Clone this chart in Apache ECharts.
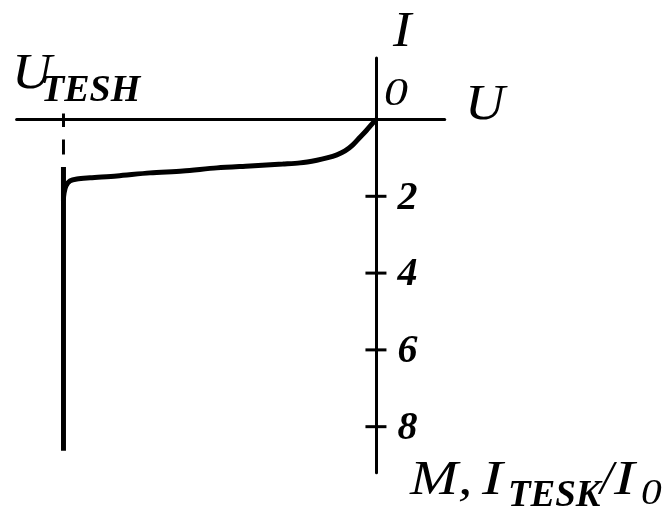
<!DOCTYPE html>
<html>
<head>
<meta charset="utf-8">
<script src="https://cdn.jsdelivr.net/npm/echarts@6/dist/echarts.min.js"></script>
<style>
html,body{margin:0;padding:0;background:#fff;}
#chart{width:671px;height:510px;}
</style>
</head>
<body>
<div id="chart"></div>
<script>
// Normalized voltage U/|U_TESH| (U_TESH = -1) and current I (multiplication M)
const curveU = [0, -0.013, -0.032, -0.051, -0.074, -0.099, -0.125, -0.157, -0.189, -0.243, -0.298, -0.403, -0.509, -0.618, -0.723, -0.829, -0.915, -0.957, -0.979, -0.992, -0.998, -1, -1];
const curveI = [0, 0.12, 0.30, 0.46, 0.66, 0.82, 0.92, 1.00, 1.06, 1.13, 1.16, 1.21, 1.26, 1.34, 1.39, 1.47, 1.52, 1.55, 1.60, 1.73, 1.91, 2.10, 8.63];
const uTesh = -1;
const dashI = [0, 1.24];
const wallI = [1.24, 2.1];
const yTicks = [2, 4, 6, 8];

const serif = 'Liberation Serif';
const chart = echarts.init(document.getElementById('chart'), null, {renderer: 'canvas'});

const option = {
  animation: false,
  backgroundColor: '#fff',
  grid: {left: 16.6, top: 58.06, width: 428.1, height: 414.7, containLabel: false},
  xAxis: {
    type: 'value', min: -1.15, max: 0.22,
    axisLine: {show: true, onZero: true, lineStyle: {color: '#000', width: 3}},
    axisTick: {show: false}, axisLabel: {show: false}, splitLine: {show: false}
  },
  yAxis: {
    type: 'value', min: -1.6, max: 9.2, inverse: true,
    axisLine: {show: true, onZero: true, lineStyle: {color: '#000', width: 3}},
    axisTick: {show: false}, axisLabel: {show: false}, splitLine: {show: false}
  },
  series: [
    {
      type: 'line', data: curveU.map((u, i) => [u, curveI[i]]),
      showSymbol: false, smooth: 0.3,
      lineStyle: {color: '#000', width: 5}
    },
    {
      type: 'line', data: wallI.map(v => [uTesh, v]), showSymbol: false,
      lineStyle: {color: '#000', width: 5}
    },
    {
      type: 'line', data: dashI.map(v => [uTesh, v]), showSymbol: false,
      lineStyle: {color: '#000', width: 3, type: [15, 12.5], dashOffset: 7.5}
    },
    {
      type: 'scatter', data: yTicks.map(v => [0, v]), symbol: 'rect', symbolSize: [21, 3],
      itemStyle: {color: '#000', opacity: 1},
      label: {
        show: true, position: 'right', distance: 11, offset: [0, 2],
        formatter: p => String(p.value[1]),
        fontFamily: serif, fontStyle: 'italic', fontWeight: 'bold', fontSize: 40, color: '#000'
      }
    },
    {
      type: 'scatter', data: [[uTesh, 0]], symbol: 'rect', symbolSize: [3, 12],
      itemStyle: {color: '#000', opacity: 1}
    }
  ]
};
chart.setOption(option);

function txt(text, x, y, size, bold, sx) {
  return {
    type: 'text', x: x, y: y, silent: true, scaleX: sx || 1,
    style: {
      text: text, fill: '#000', font: 'italic ' + (bold ? 'bold ' : '') + size + 'px "' + serif + '"',
      align: 'left', verticalAlign: 'middle'
    }
  };
}
chart.setOption({
  graphic: [
    txt('U', 12, 75, 50, false, 1.1),
    txt('TESH', 41, 91, 38, true),
    txt('I', 393, 33, 50, false, 1.1),
    txt('0', 384, 94, 40, false, 1.2),
    txt('U', 465, 106, 50, false, 1.1),
    txt('M,', 410, 481, 48, false, 1.2),
    txt('I', 482, 481, 48, false, 1.3),
    txt('TESK', 508, 496, 37, true),
    txt('/', 600, 481, 48, false),
    txt('I', 614, 481, 48, false, 1.3),
    txt('0', 641, 495, 36, false, 1.15)
  ]
});
</script>
</body>
</html>
